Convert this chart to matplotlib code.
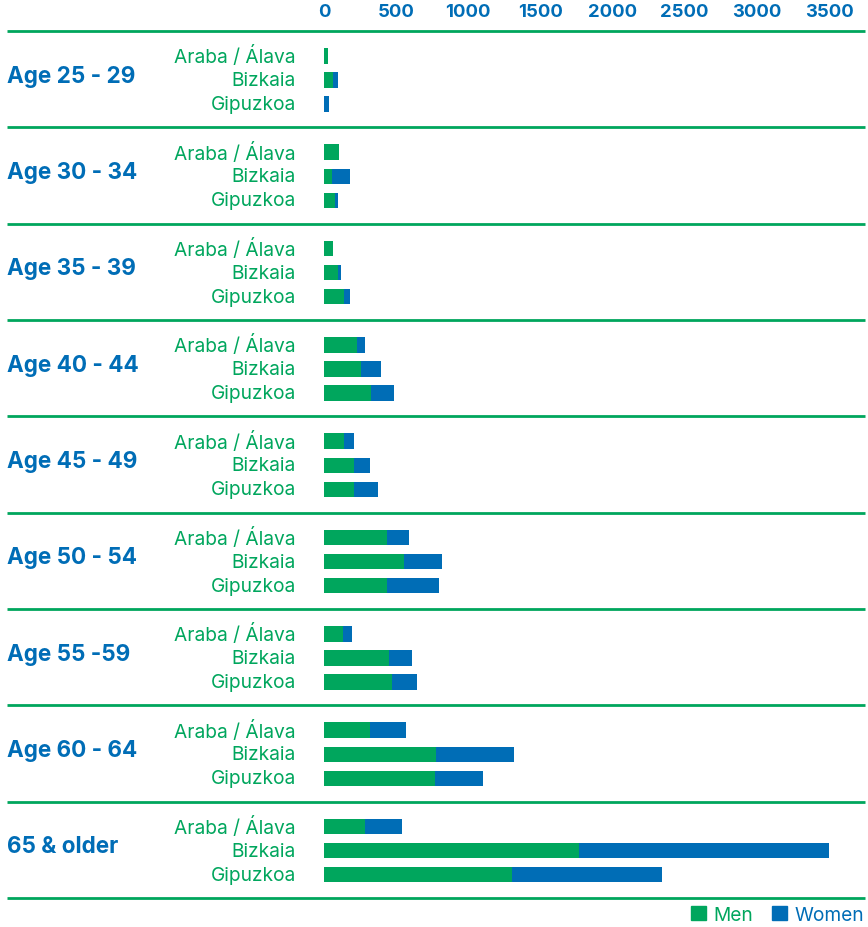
import matplotlib.pyplot as plt
import matplotlib.transforms as mtransforms
from matplotlib.patches import Patch

green = '#00A65D'
blue = '#006DB6'

groups = ["Age 25 - 29", "Age 30 - 34", "Age 35 - 39", "Age 40 - 44", "Age 45 - 49",
          "Age 50 - 54", "Age 55 -59", "Age 60 - 64", "65 & older"]
provinces = ["Araba / Álava", "Bizkaia", "Gipuzkoa"]

men = [
    [30, 63, 0],
    [105, 56, 77],
    [63, 97, 139],
    [230, 258, 327],
    [139, 209, 209],
    [438, 557, 438],
    [132, 452, 473],
    [320, 779, 772],
    [281, 1768, 1301],
]
women = [
    [0, 35, 35],
    [0, 125, 21],
    [0, 21, 42],
    [56, 139, 160],
    [70, 111, 167],
    [153, 264, 362],
    [63, 160, 174],
    [250, 536, 327],
    [258, 1740, 1045],
]
xticks = [0, 500, 1000, 1500, 2000, 2500, 3000, 3500]

plt.rcParams['font.family'] = ['Inter', 'DejaVu Sans']

W, H = 868, 928
fig = plt.figure(figsize=(W / 100, H / 100), dpi=100)
ax = fig.add_axes([324 / W, (H - 899) / H, 505 / W, (899 - 32) / H])

rows_per_group = 4
n = len(groups)
ax.set_ylim(n * rows_per_group, 0)
ax.set_xlim(0, 3500)

lbl_tr = mtransforms.blended_transform_factory(fig.transFigure, ax.transData)

for g, name in enumerate(groups):
    base = g * rows_per_group
    ys = [base + 1.03 + i for i in range(len(provinces))]
    ax.barh(ys, men[g], height=0.64, color=green)
    ax.barh(ys, women[g], left=men[g], height=0.64, color=blue)
    for y, p in zip(ys, provinces):
        ax.text(296 / W, y, p, transform=lbl_tr, ha='right', va='center',
                color=green, fontsize=13.8)
    ax.text(7 / W, base + 1.85, name, transform=lbl_tr, ha='left', va='center',
            color=blue, fontsize=16.2, fontweight='bold')

for k in range(n + 1):
    ax.plot([7 / W, 865 / W], [k * rows_per_group] * 2, transform=lbl_tr,
            color=green, lw=2, clip_on=False, solid_capstyle='butt')

ax.xaxis.tick_top()
ax.set_xticks(xticks)
ax.set_xticklabels([str(t) for t in xticks])
ax.tick_params(axis='x', length=0, pad=8, labelsize=13.3, labelcolor=blue)
for t in ax.get_xticklabels():
    t.set_fontweight('bold')
ax.set_yticks([])
for s in ax.spines.values():
    s.set_visible(False)

handles = [Patch(color=green, label='Men'), Patch(color=blue, label='Women')]
fig.legend(handles=handles, loc='center right', bbox_to_anchor=(866 / W, (H - 916) / H),
           ncol=2, frameon=False, fontsize=13.8, labelcolor=[green, blue],
           handlelength=0.75, handleheight=0.75, handletextpad=0.4, columnspacing=1.0,
           borderaxespad=0, borderpad=0.1)

fig.savefig('out.png', dpi=100)
